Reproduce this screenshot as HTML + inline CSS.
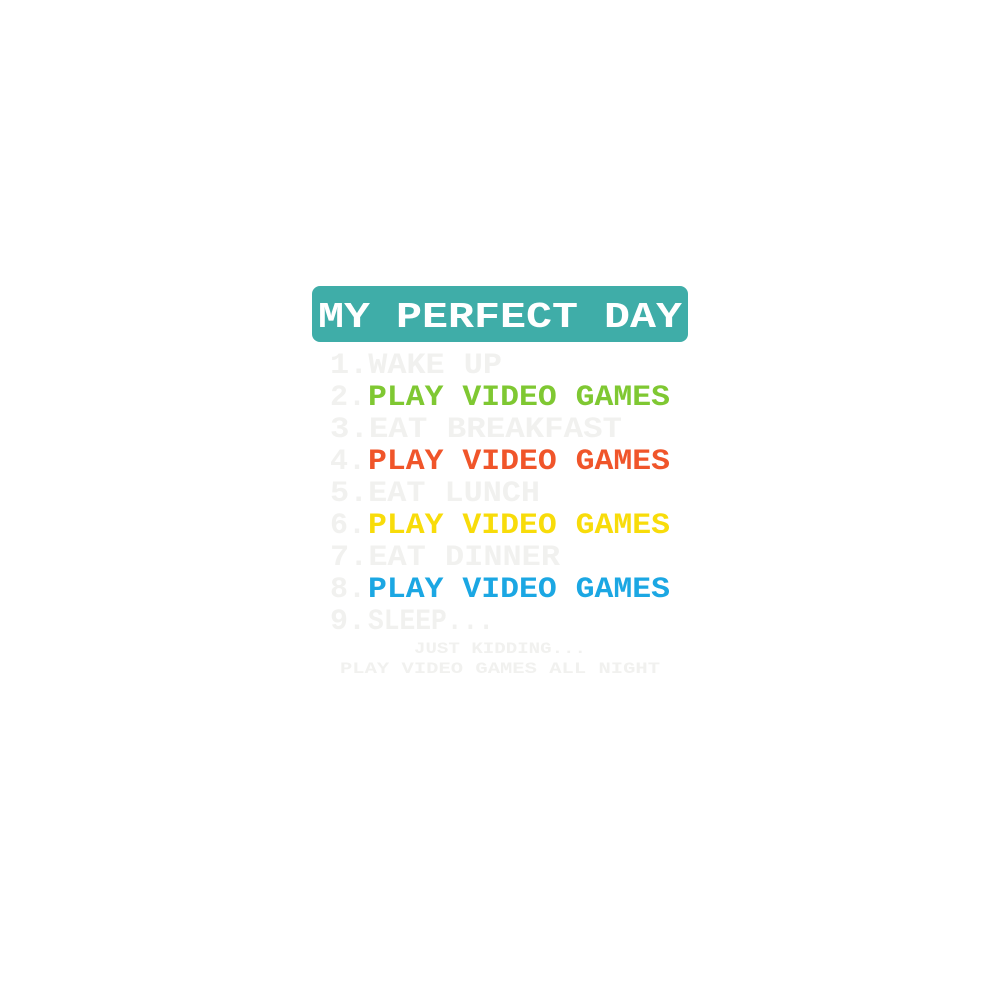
<!DOCTYPE html>
<html><head><meta charset="utf-8"><style>
html,body{margin:0;padding:0;background:#fff;}
svg{display:block;}
text{font-family:"Liberation Mono",monospace;font-weight:bold;}
</style></head><body>
<svg width="1000" height="1000" viewBox="0 0 1000 1000" xmlns="http://www.w3.org/2000/svg">
<rect x="312" y="286" width="376" height="56" rx="8" fill="#3fada8"/>
<text x="318" y="327" font-size="36" fill="#fff" textLength="364" lengthAdjust="spacingAndGlyphs">MY PERFECT DAY</text>
<g font-size="30">
<text x="330" y="373" fill="#f1f1ef" textLength="172" lengthAdjust="spacingAndGlyphs">1.WAKE UP</text>
<text x="330" y="405" fill="#f1f1ef">2.</text>
<text x="368" y="405" fill="#7fc832" textLength="302" lengthAdjust="spacingAndGlyphs">PLAY VIDEO GAMES</text>
<text x="330" y="437" fill="#f1f1ef" textLength="292" lengthAdjust="spacingAndGlyphs">3.EAT BREAKFAST</text>
<text x="330" y="469" fill="#f1f1ef">4.</text>
<text x="368" y="469" fill="#f0552a" textLength="302" lengthAdjust="spacingAndGlyphs">PLAY VIDEO GAMES</text>
<text x="330" y="501" fill="#f1f1ef" textLength="210" lengthAdjust="spacingAndGlyphs">5.EAT LUNCH</text>
<text x="330" y="533" fill="#f1f1ef">6.</text>
<text x="368" y="533" fill="#f8dc0a" textLength="302" lengthAdjust="spacingAndGlyphs">PLAY VIDEO GAMES</text>
<text x="330" y="565" fill="#f1f1ef" textLength="230" lengthAdjust="spacingAndGlyphs">7.EAT DINNER</text>
<text x="330" y="597" fill="#f1f1ef">8.</text>
<text x="368" y="597" fill="#1ba7e3" textLength="302" lengthAdjust="spacingAndGlyphs">PLAY VIDEO GAMES</text>
<text x="330" y="629" fill="#f1f1ef">9.</text>
<text x="368" y="629" fill="#f1f1ef" textLength="126" lengthAdjust="spacingAndGlyphs">SLEEP...</text>
</g>
<text x="414" y="653" font-size="16" fill="#f1f1ef" textLength="172" lengthAdjust="spacingAndGlyphs">JUST KIDDING...</text>
<text x="340" y="673" font-size="16" fill="#f1f1ef" textLength="320" lengthAdjust="spacingAndGlyphs">PLAY VIDEO GAMES ALL NIGHT</text>
</svg>
</body></html>
